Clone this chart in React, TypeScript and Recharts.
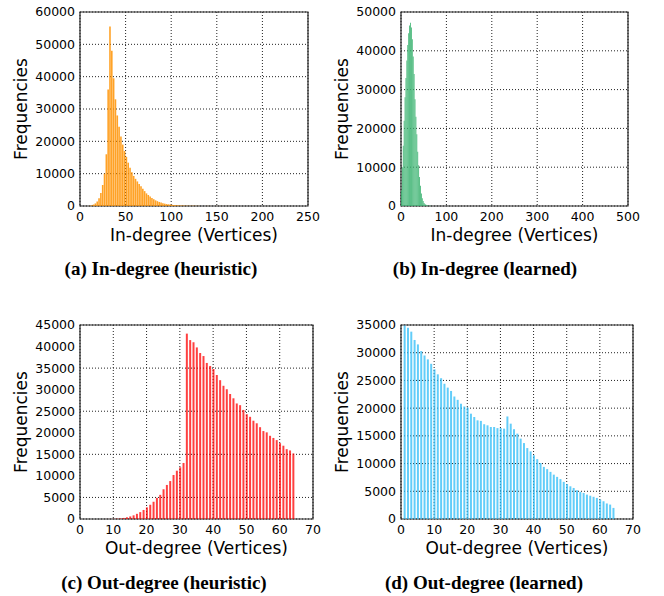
import { Bar, BarChart, CartesianGrid, ReferenceArea, XAxis, YAxis } from 'recharts'

// (a) in-degree, heuristic: bins of width 2, centred at 1, 3, 5, ...
const inHeuristicCounts = [
  0, 0, 0, 10, 30, 80, 200, 450, 800, 1400,
  2400, 4000, 6500, 10000, 16000, 36000, 55500, 48000, 39500, 33000,
  28000, 24500, 21500, 19000, 17000, 15200, 13400, 11800, 10400, 9300,
  8400, 7600, 6800, 6100, 5300, 4600, 3900, 3400, 2900, 2500,
  2100, 1750, 1500, 1250, 1050, 880, 730, 600, 520, 430,
  370, 310, 260, 220, 180, 150, 120, 100, 85, 70,
  60, 55, 50, 45, 40, 36, 33, 30, 28, 26,
  24, 22, 20, 19, 18, 17, 16, 15, 14, 13,
  12, 12, 11, 11, 10, 10, 9, 9, 8, 8,
  8, 7, 7, 7, 6, 6, 6, 5, 5, 5,
  5, 4, 4, 4, 4, 3, 3, 3, 3, 3,
  2, 2, 2, 2, 2, 2, 2, 1, 1, 1,
  1, 1, 1, 1, 1,
]

// (b) in-degree, learned: bins of width 2 up to 100, then a sparse tail
const inLearnedCounts = [
  4000, 10000, 15500, 22000, 28000, 33000, 37500, 41500, 44500, 46500,
  47200, 46000, 43000, 38500, 34000, 27500, 23000, 18500, 14000, 10500,
  7500, 5200, 3200, 2000, 1300, 800, 500, 300, 180, 110,
  70, 50, 35, 25, 18, 14, 11, 9, 8, 7,
  6, 6, 5, 5, 5, 4, 4, 4, 4, 3,
]
const inLearnedTailDegrees = [110, 130, 150, 170, 190, 210, 230, 250, 270, 290, 310, 330, 350]
const inLearnedTailCounts = [3, 3, 2, 2, 2, 2, 2, 1, 1, 1, 1, 1, 1]

// (c) out-degree, heuristic: degrees 0..64
const outHeuristicCounts = [
  0, 0, 0, 0, 0, 0, 0, 0, 10, 20,
  40, 80, 150, 250, 400, 600, 850, 1200, 1600, 2100,
  2700, 3300, 4000, 4900, 5600, 6900, 7900, 8800, 10200, 11200,
  12000, 13000, 43000, 41500, 41000, 39800, 38500, 37800, 36200, 35500,
  34800, 33400, 32200, 30900, 30100, 29000, 28000, 26800, 26400, 25300,
  24300, 23700, 22800, 22200, 21300, 20400, 20100, 19300, 18800, 18300,
  17600, 17000, 16200, 15900, 15200,
]

// (d) out-degree, learned: degrees 0..64
const outLearnedCounts = [
  0, 34900, 34500, 33800, 32300, 31500, 30300, 29500, 28800, 28000,
  27000, 26100, 25400, 24400, 23700, 23100, 22100, 21500, 20800, 20300,
  20100, 19000, 18400, 17800, 17700, 17100, 16900, 16600, 16600, 16400,
  16400, 16300, 18500, 17200, 16200, 15400, 14500, 13700, 12800, 12200,
  11500, 10800, 10100, 9400, 9000, 8500, 8000, 7600, 7200, 6700,
  6300, 5900, 5600, 5200, 4900, 4700, 4400, 4200, 4000, 3800,
  3500, 3200, 2800, 2600, 2000,
]

const inHeuristicTicks = [0, 50, 100, 150, 200, 250]
const inHeuristicYTicks = [0, 10000, 20000, 30000, 40000, 50000, 60000]
const inLearnedTicks = [0, 100, 200, 300, 400, 500]
const inLearnedYTicks = [0, 10000, 20000, 30000, 40000, 50000]
const outTicks = [0, 10, 20, 30, 40, 50, 60, 70]
const outHeuristicYTicks = [0, 5000, 10000, 15000, 20000, 25000, 30000, 35000, 40000, 45000]
const outLearnedYTicks = [0, 5000, 10000, 15000, 20000, 25000, 30000, 35000]

const inHeuristicData = inHeuristicCounts.map((count, i) => ({ degree: i * 2 + 1, count }))
const inLearnedData = [
  ...inLearnedCounts.map((count, i) => ({ degree: i * 2 + 1, count })),
  ...inLearnedTailDegrees.map((degree, i) => ({ degree, count: inLearnedTailCounts[i] })),
]
const outHeuristicData = outHeuristicCounts.map((count, degree) => ({ degree, count }))
const outLearnedData = outLearnedCounts.map((count, degree) => ({ degree, count }))

const sans = 'DejaVu Sans'
const tickStyle = { fontSize: 12.5, fill: '#000', fontFamily: sans }

interface PanelProps {
  data: { degree: number; count: number }[]
  left: number
  top: number
  width: number
  height: number
  yAxisWidth: number
  marginTop: number
  marginRight: number
  xTicks: number[]
  yTicks: number[]
  xLabel: string
  yLabelOffset: number
  color: string
  opacity: number
  barSize: number
}

function Panel(p: PanelProps) {
  const xMax = p.xTicks[p.xTicks.length - 1]
  const yMax = p.yTicks[p.yTicks.length - 1]
  const axisHeight = 40
  return (
    <div style={{ position: 'absolute', left: p.left, top: p.top }}>
      <BarChart
        width={p.width}
        height={p.height}
        data={p.data}
        margin={{ top: p.marginTop, right: p.marginRight, left: 0, bottom: p.height - p.marginTop - 194 - axisHeight }}
      >
        <CartesianGrid stroke="#222" strokeDasharray="1 2" />
        <XAxis
          dataKey="degree"
          type="number"
          domain={[0, xMax]}
          ticks={p.xTicks}
          height={axisHeight}
          axisLine={false}
          tickLine={false}
          tickSize={0}
          tickMargin={6}
          tick={tickStyle}
          label={{ value: p.xLabel, position: 'insideBottom', offset: 5, style: { fontSize: 17, fontFamily: sans, fill: '#000' } }}
        />
        <YAxis
          type="number"
          domain={[0, yMax]}
          ticks={p.yTicks}
          width={p.yAxisWidth}
          axisLine={false}
          tickLine={false}
          tickSize={0}
          tickMargin={5}
          tick={tickStyle}
          label={{
            value: 'Frequencies',
            angle: -90,
            position: 'insideLeft',
            offset: p.yLabelOffset,
            style: { fontSize: 17, fontFamily: sans, fill: '#000', textAnchor: 'middle' },
          }}
        />
        <Bar dataKey="count" fill={p.color} fillOpacity={p.opacity} barSize={p.barSize} isAnimationActive={false} />
        <ReferenceArea x1={0} x2={xMax} y1={0} y2={yMax} fill="none" stroke="#222" strokeWidth={1.2} />
      </BarChart>
    </div>
  )
}

const captionStyle = {
  position: 'absolute' as const,
  width: 300,
  textAlign: 'center' as const,
  fontFamily: '"Liberation Serif", serif',
  fontWeight: 'bold' as const,
  fontSize: 19,
  lineHeight: '20px',
  color: '#000',
}

export default function App() {
  return (
    <div style={{ position: 'absolute', left: 0, top: 0, width: 664, height: 596, background: '#fff' }}>
      <Panel
        data={inHeuristicData}
        left={0}
        top={0}
        width={330}
        height={250}
        yAxisWidth={80}
        marginTop={12}
        marginRight={22}
        xTicks={inHeuristicTicks}
        yTicks={inHeuristicYTicks}
        xLabel="In-degree (Vertices)"
        yLabelOffset={21}
        color="#ff9200"
        opacity={0.85}
        barSize={1.6}
      />
      <Panel
        data={inLearnedData}
        left={330}
        top={0}
        width={334}
        height={250}
        yAxisWidth={71}
        marginTop={12}
        marginRight={36}
        xTicks={inLearnedTicks}
        yTicks={inLearnedYTicks}
        xLabel="In-degree (Vertices)"
        yLabelOffset={12}
        color="#3cb371"
        opacity={1}
        barSize={1.8}
      />
      <Panel
        data={outHeuristicData}
        left={0}
        top={312}
        width={330}
        height={250}
        yAxisWidth={80}
        marginTop={13}
        marginRight={17}
        xTicks={outTicks}
        yTicks={outHeuristicYTicks}
        xLabel="Out-degree (Vertices)"
        yLabelOffset={21}
        color="#ff0000"
        opacity={0.75}
        barSize={2}
      />
      <Panel
        data={outLearnedData}
        left={330}
        top={312}
        width={334}
        height={250}
        yAxisWidth={71}
        marginTop={13}
        marginRight={31}
        xTicks={outTicks}
        yTicks={outLearnedYTicks}
        xLabel="Out-degree (Vertices)"
        yLabelOffset={12}
        color="#2ebcf7"
        opacity={0.75}
        barSize={2}
      />
      <div style={{ ...captionStyle, left: 161 - 150, top: 259 }}>(a) In-degree (heuristic)</div>
      <div style={{ ...captionStyle, left: 485 - 150, top: 259 }}>(b) In-degree (learned)</div>
      <div style={{ ...captionStyle, left: 164 - 150, top: 573 }}>(c) Out-degree (heuristic)</div>
      <div style={{ ...captionStyle, left: 484 - 150, top: 573 }}>(d) Out-degree (learned)</div>
    </div>
  )
}
